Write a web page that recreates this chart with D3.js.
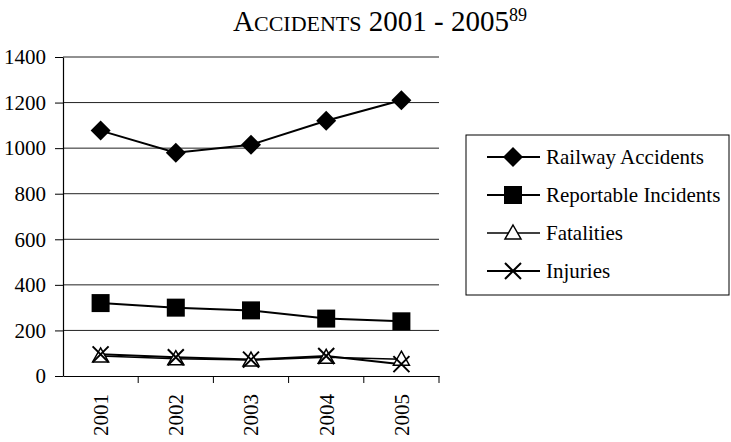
<!DOCTYPE html>
<html><head><meta charset="utf-8">
<script src="https://cdn.jsdelivr.net/npm/d3@7"></script>
<style>
body{margin:0;background:#fff;}
svg{display:block;font-family:"Liberation Serif","Times New Roman",serif;}
svg text{font-family:"Liberation Serif","Times New Roman",serif !important;}
</style></head>
<body><svg id="c" width="731" height="442"></svg>
<script>
const years = ["2001","2002","2003","2004","2005"];
const railwayAccidents = [1077, 980, 1015, 1120, 1210];
const reportableIncidents = [320, 300, 288, 252, 240];
const fatalities = [88, 76, 70, 82, 74];
const injuries = [95, 82, 72, 88, 52];
const yTicks = [0, 200, 400, 600, 800, 1000, 1200, 1400];
const seriesNames = ["Railway Accidents","Reportable Incidents","Fatalities","Injuries"];

const series = [
  {name: seriesNames[0], values: railwayAccidents, marker: "diamond", lw: 2},
  {name: seriesNames[1], values: reportableIncidents, marker: "square", lw: 2},
  {name: seriesNames[2], values: fatalities, marker: "triangle", lw: 1.5},
  {name: seriesNames[3], values: injuries, marker: "cross", lw: 2}
];

const svg = d3.select("#c");
const pL = 63, pR = 439, pT = 57, pB = 376;
const x = d3.scaleBand().domain(years).range([pL, pR]);
const y = d3.scaleLinear().domain([0, 1400]).range([pB, pT]);

// title
const t = svg.append("text").attr("x", 380).attr("y", 31).attr("text-anchor", "middle").attr("fill", "#000");
t.append("tspan").attr("font-size", 29).text("A");
t.append("tspan").attr("font-size", 22).text("CCIDENTS");
t.append("tspan").attr("font-size", 29).text(" 2001 - 2005");
t.append("tspan").attr("font-size", 18).attr("dy", -10).text("89");

// gridlines
svg.append("g").selectAll("line").data(yTicks.filter(d => d > 0)).join("line")
  .attr("x1", pL).attr("x2", pR).attr("y1", d => y(d)).attr("y2", d => y(d))
  .attr("stroke", "#222").attr("stroke-width", 1);

// y axis
const ya = svg.append("g").attr("transform", `translate(${pL},0)`)
  .call(d3.axisLeft(y).tickValues(yTicks).tickFormat(d3.format("d")).tickSize(8).tickPadding(9).tickSizeOuter(0));
ya.select(".domain").attr("stroke", "#000").attr("stroke-width", 1.2);
ya.selectAll(".tick line").attr("stroke", "#000");
ya.selectAll("text").attr("font-size", 21).attr("fill", "#000");

// x axis
const xa = svg.append("g").attr("transform", `translate(0,${pB})`)
  .call(d3.axisBottom(x).tickSize(0).tickSizeOuter(0));
xa.select(".domain").attr("stroke", "#000").attr("stroke-width", 1.2);
xa.selectAll("text").attr("font-size", 21).attr("fill", "#000")
  .attr("transform", "rotate(-90)").attr("text-anchor", "end").attr("dy", "0.35em").attr("x", -18).attr("y", 0);
// category boundary ticks
svg.append("g").selectAll("line").data(years).join("line")
  .attr("x1", (d, i) => pL + x.step() * (i + 1)).attr("x2", (d, i) => pL + x.step() * (i + 1))
  .attr("y1", pB).attr("y2", pB + 7).attr("stroke", "#000");

function drawMarker(g, type, cx, cy) {
  if (type === "diamond") {
    g.append("path").attr("d", `M${cx},${cy-10}L${cx+10},${cy}L${cx},${cy+10}L${cx-10},${cy}Z`).attr("fill", "#000");
  } else if (type === "square") {
    g.append("rect").attr("x", cx-9).attr("y", cy-9).attr("width", 18).attr("height", 18).attr("fill", "#000");
  } else if (type === "triangle") {
    g.append("path").attr("d", `M${cx},${cy-8}L${cx+8},${cy+6}L${cx-8},${cy+6}Z`).attr("fill", "#fff").attr("stroke", "#000").attr("stroke-width", 1.5);
  } else {
    g.append("path").attr("d", `M${cx-8},${cy-8}L${cx+8},${cy+8}M${cx-8},${cy+8}L${cx+8},${cy-8}`).attr("stroke", "#000").attr("stroke-width", 2);
  }
}

const line = d3.line().x((d, i) => x(years[i]) + x.bandwidth() / 2).y(d => y(d));
const plot = svg.append("g");
series.forEach(s => {
  plot.append("path").datum(s.values).attr("d", line).attr("fill", "none").attr("stroke", "#000").attr("stroke-width", s.lw);
});
series.forEach(s => {
  const g = plot.append("g");
  s.values.forEach((v, i) => drawMarker(g, s.marker, x(years[i]) + x.bandwidth() / 2, y(v)));
});

// legend
const lg = svg.append("g");
lg.append("rect").attr("x", 466).attr("y", 135).attr("width", 263).attr("height", 160)
  .attr("fill", "none").attr("stroke", "#000").attr("stroke-width", 1);
const rowsY = [157, 195, 233, 271];
series.forEach((s, i) => {
  const yy = rowsY[i];
  lg.append("line").attr("x1", 487).attr("x2", 540).attr("y1", yy).attr("y2", yy).attr("stroke", "#000").attr("stroke-width", s.lw);
  drawMarker(lg, s.marker, 513, yy);
  lg.append("text").attr("x", 546).attr("y", yy).attr("dy", "0.35em").attr("font-size", 21).attr("fill", "#000").text(s.name);
});
</script></body></html>
